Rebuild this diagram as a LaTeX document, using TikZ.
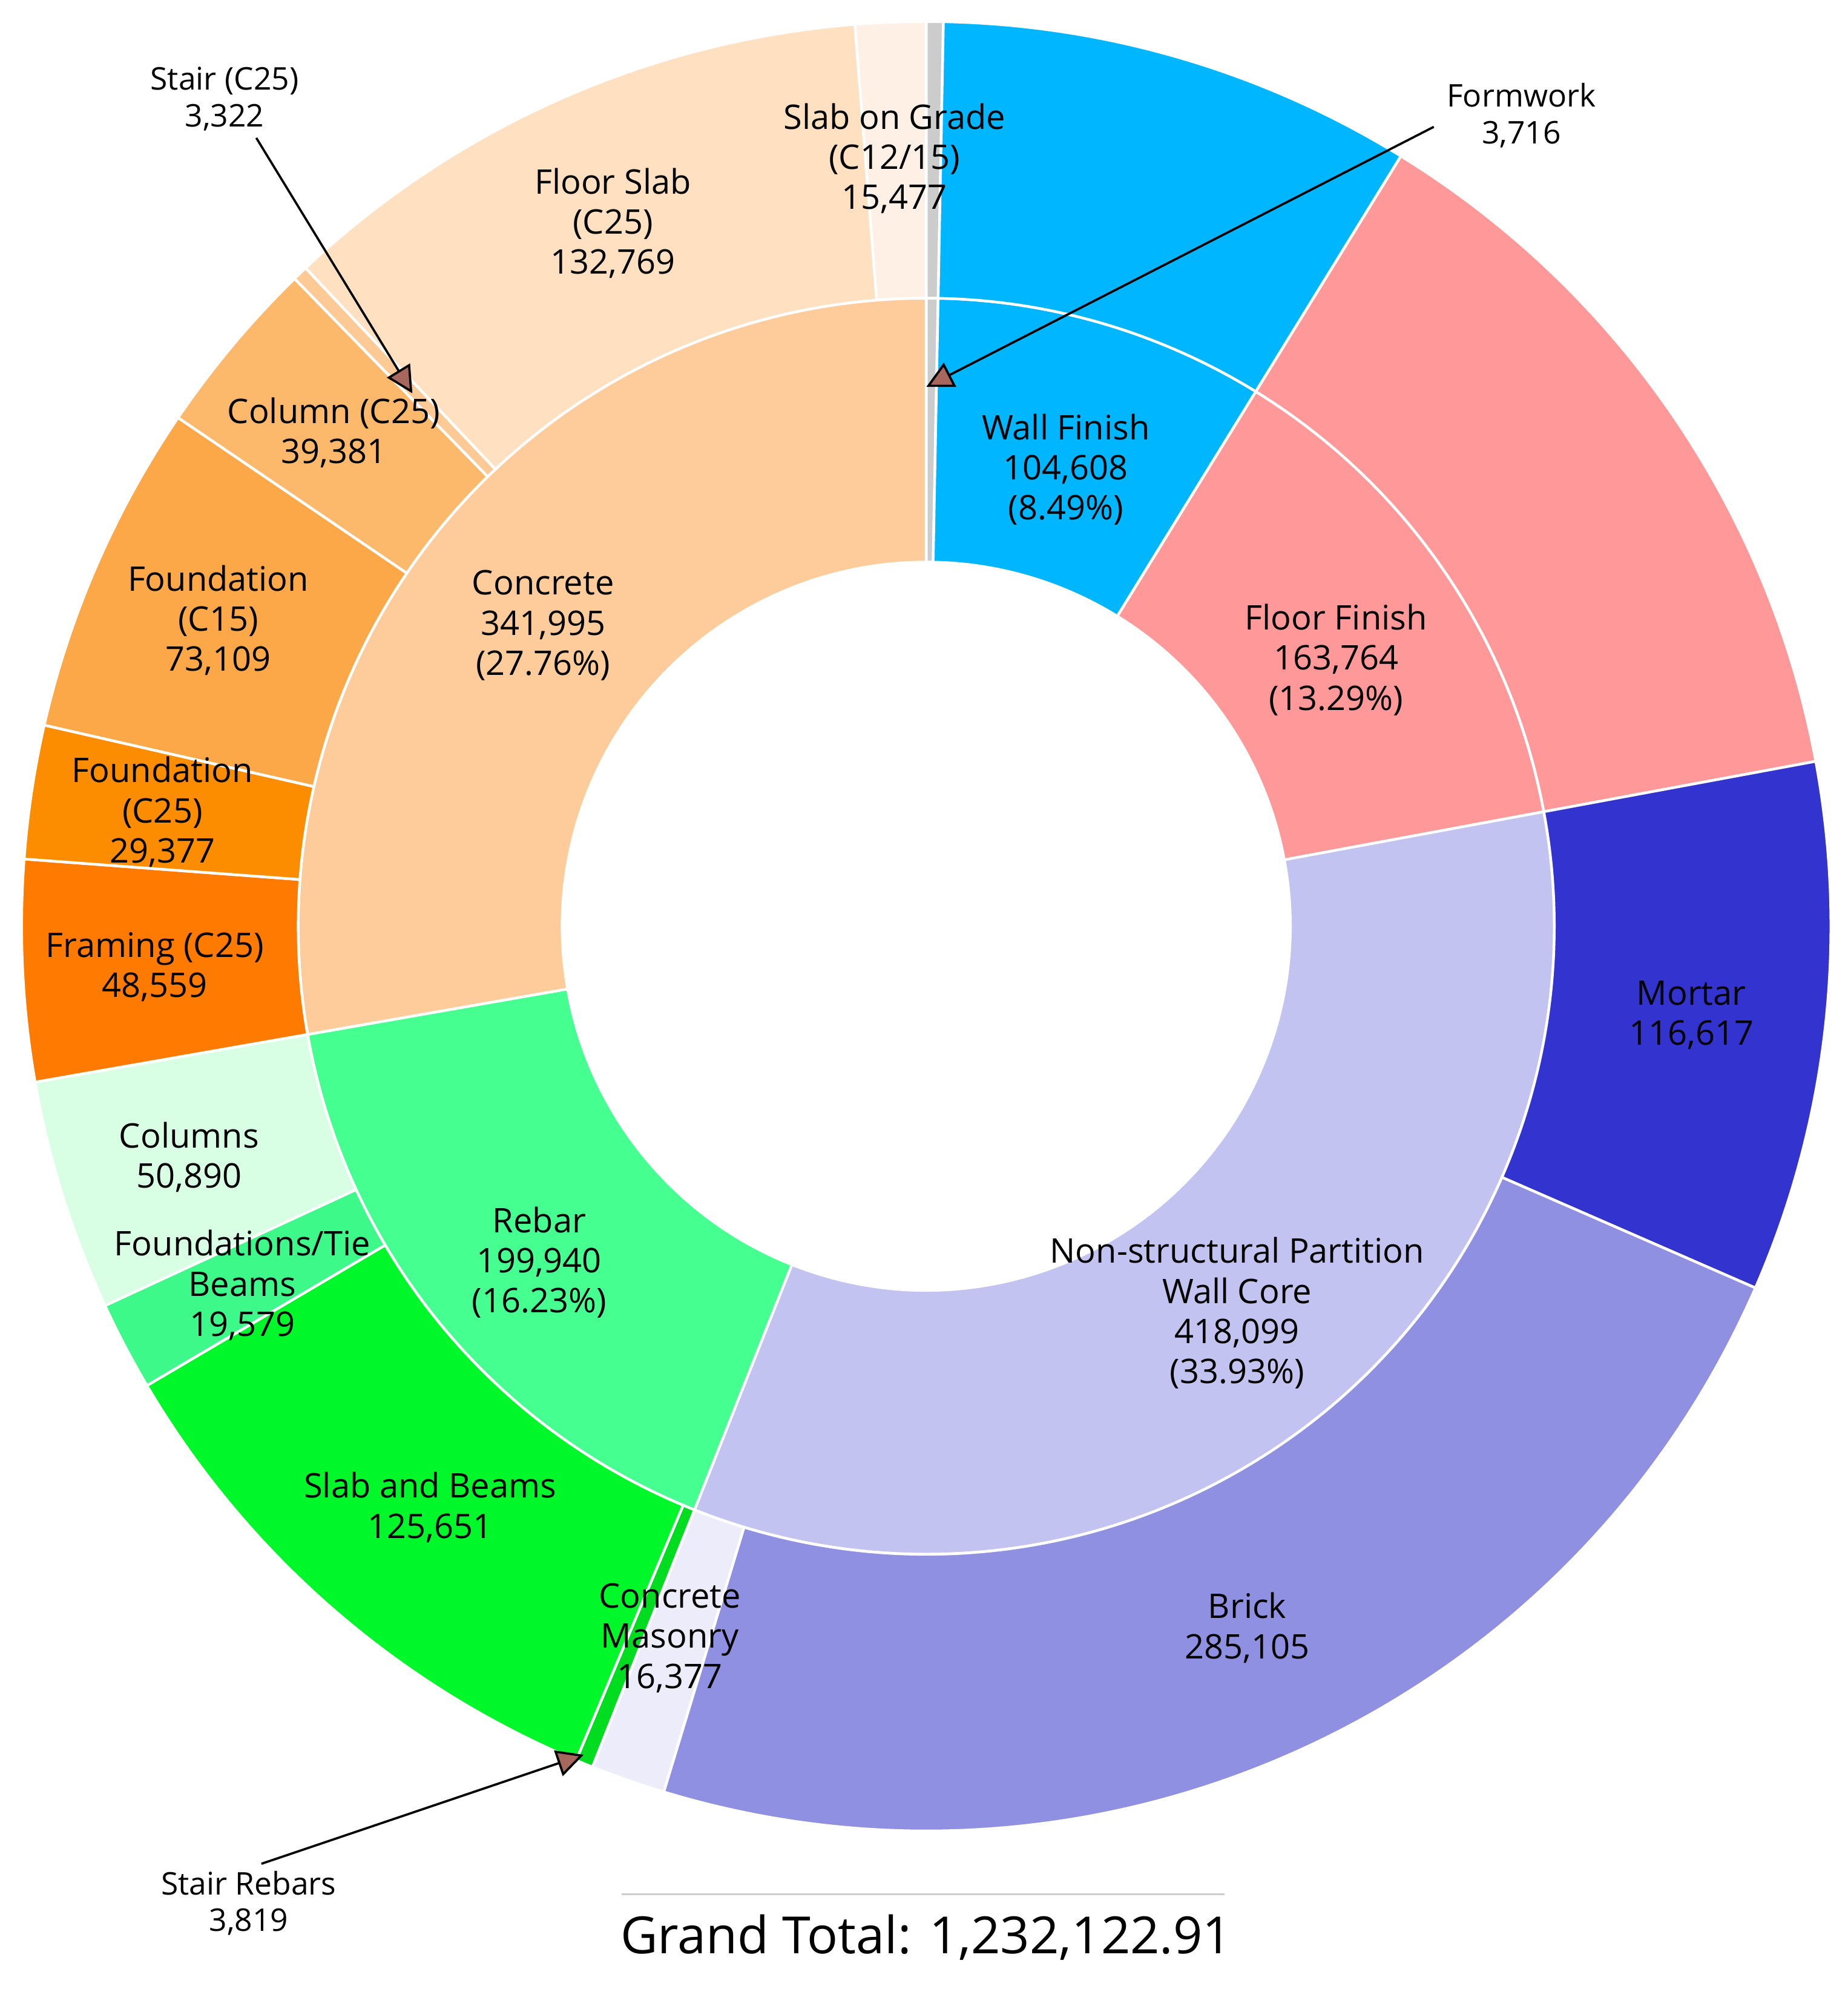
\documentclass[tikz,border=0pt]{standalone}
\usepackage{fontspec}
\setmainfont{Open Sans}
\usetikzlibrary{arrows.meta}
\definecolor{formwork}{HTML}{CCCCCC}
\definecolor{wallfin}{HTML}{00B6FF}
\definecolor{floorfin}{HTML}{FF9999}
\definecolor{wallcore}{HTML}{C3C3F2}
\definecolor{mortar}{HTML}{3333D0}
\definecolor{brick}{HTML}{9090E2}
\definecolor{cmasonry}{HTML}{ECECFA}
\definecolor{rebar}{HTML}{45FF90}
\definecolor{stairreb}{HTML}{00DD20}
\definecolor{slabbeam}{HTML}{00F82A}
\definecolor{foundtie}{HTML}{3CF98A}
\definecolor{columns}{HTML}{D8FFE4}
\definecolor{concrete}{HTML}{FECC9A}
\definecolor{framing}{HTML}{FF7A00}
\definecolor{foundcb}{HTML}{FC8C00}
\definecolor{foundca}{HTML}{FCA848}
\definecolor{colc}{HTML}{FDB96B}
\definecolor{stairc}{HTML}{FDC994}
\definecolor{floorslab}{HTML}{FFE0C0}
\definecolor{slabgrade}{HTML}{FFF0E6}
\definecolor{tipcol}{HTML}{A8675C}
\newcommand\ringslice[5]{%
  \fill[#5,draw=white,line width=0.6pt] (#3:#2) arc[start angle=#3,end angle=#4,radius=#2]
    -- (#4:#1) arc[start angle=#4,end angle=#3,radius=#1] -- cycle;}
\tikzset{
  lbl/.style={align=center,font=\fontsize{7.6}{9}\selectfont,inner sep=0pt},
  note/.style={align=center,font=\fontsize{7}{8.2}\selectfont,inner sep=0pt},
  pointer/.style={-{Triangle[length=6pt,width=6pt,fill=tipcol]},line width=0.5pt}
}
\begin{document}
\begin{tikzpicture}[x=0.1mm,y=0.1mm]
  \useasboundingbox (0,0) rectangle (1456,1570);
  % inner ring
  \begin{scope}[shift={(730,840)}]
    \def\cum{0}
    \foreach \v/\c in {3.716/formwork,104.608/wallfin,163.764/floorfin,418.099/wallcore,199.940/rebar,341.995/concrete}{
      \pgfmathsetmacro\a{90-\cum*0.2921785}
      \pgfmathsetmacro\b{90-(\cum+\v)*0.2921785}
      \ringslice{287}{495}{\a}{\b}{\c}
      \pgfmathsetmacro\n{\cum+\v}\xdef\cum{\n}
    }
    % outer ring
    \def\cum{0}
    \foreach \v/\c in {3.716/formwork,104.608/wallfin,163.764/floorfin,116.617/mortar,285.105/brick,16.377/cmasonry,3.819/stairreb,125.651/slabbeam,19.579/foundtie,50.890/columns,48.559/framing,29.377/foundcb,73.109/foundca,39.381/colc,3.322/stairc,132.769/floorslab,15.477/slabgrade}{
      \pgfmathsetmacro\a{90-\cum*0.2921785}
      \pgfmathsetmacro\b{90-(\cum+\v)*0.2921785}
      \ringslice{495}{713}{\a}{\b}{\c}
      \pgfmathsetmacro\n{\cum+\v}\xdef\cum{\n}
    }
  \end{scope}
  % labels
  \node[lbl] (grade) at (705,1445) {Slab on Grade\\(C12/15)\\15,477};
  \node[lbl] (fslab) at (483,1394) {Floor Slab\\(C25)\\132,769};
  \node[lbl] (colc) at (263,1229) {Column (C25)\\39,381};
  \node[lbl] (fca) at (172,1081) {Foundation\\(C15)\\73,109};
  \node[lbl] (fcb) at (128,930) {Foundation\\(C25)\\29,377};
  \node[lbl] (frm) at (122,808) {Framing (C25)\\48,559};
  \node[lbl] (cols) at (149,658) {Columns\\50,890};
  \node[lbl] (ftie) at (191,557) {Foundations/Tie\\Beams\\19,579};
  \node[lbl] (sbeam) at (339,382) {Slab and Beams\\125,651};
  \node[lbl] (cmas) at (528,279) {Concrete\\Masonry\\16,377};
  \node[lbl] (brick) at (983,287) {Brick\\285,105};
  \node[lbl] (core) at (975,535) {Non-structural Partition\\Wall Core\\418,099\\(33.93\%)};
  \node[lbl] (mort) at (1333,770) {Mortar\\116,617};
  \node[lbl] (ffin) at (1053,1050) {Floor Finish\\163,764\\(13.29\%)};
  \node[lbl] (wfin) at (840,1200) {Wall Finish\\104,608\\(8.49\%)};
  \node[lbl] (conc) at (428,1077) {Concrete\\341,995\\(27.76\%)};
  \node[lbl] (reb) at (425,575) {Rebar\\199,940\\(16.23\%)};
  % callouts
  \node[note] (form) at (1199,1479) {Formwork\\3,716};
  \node[note] (stc) at (177,1492) {Stair (C25)\\3,322};
  \node[note] (strb) at (196,70) {Stair Rebars\\3,819};
  \coordinate (formtip) at (730,1265);
  \coordinate (stctip) at (325,1260);
  \coordinate (strbtip) at (460,187);
  \draw[pointer] (1130,1470) -- (formtip);
  \draw[pointer] (stc.south) ++(25,-5) -- (stctip);
  \draw[pointer] (strb.north) ++(10,5) -- (strbtip);
  % total
  \draw[gray!40,line width=0.5pt] (490,77) -- (965,77);
  \node[font=\fontsize{11.5}{13}\selectfont,inner sep=0pt] (total) at (730,43) {Grand Total: 1,232,122.91};
\end{tikzpicture}
\end{document}
